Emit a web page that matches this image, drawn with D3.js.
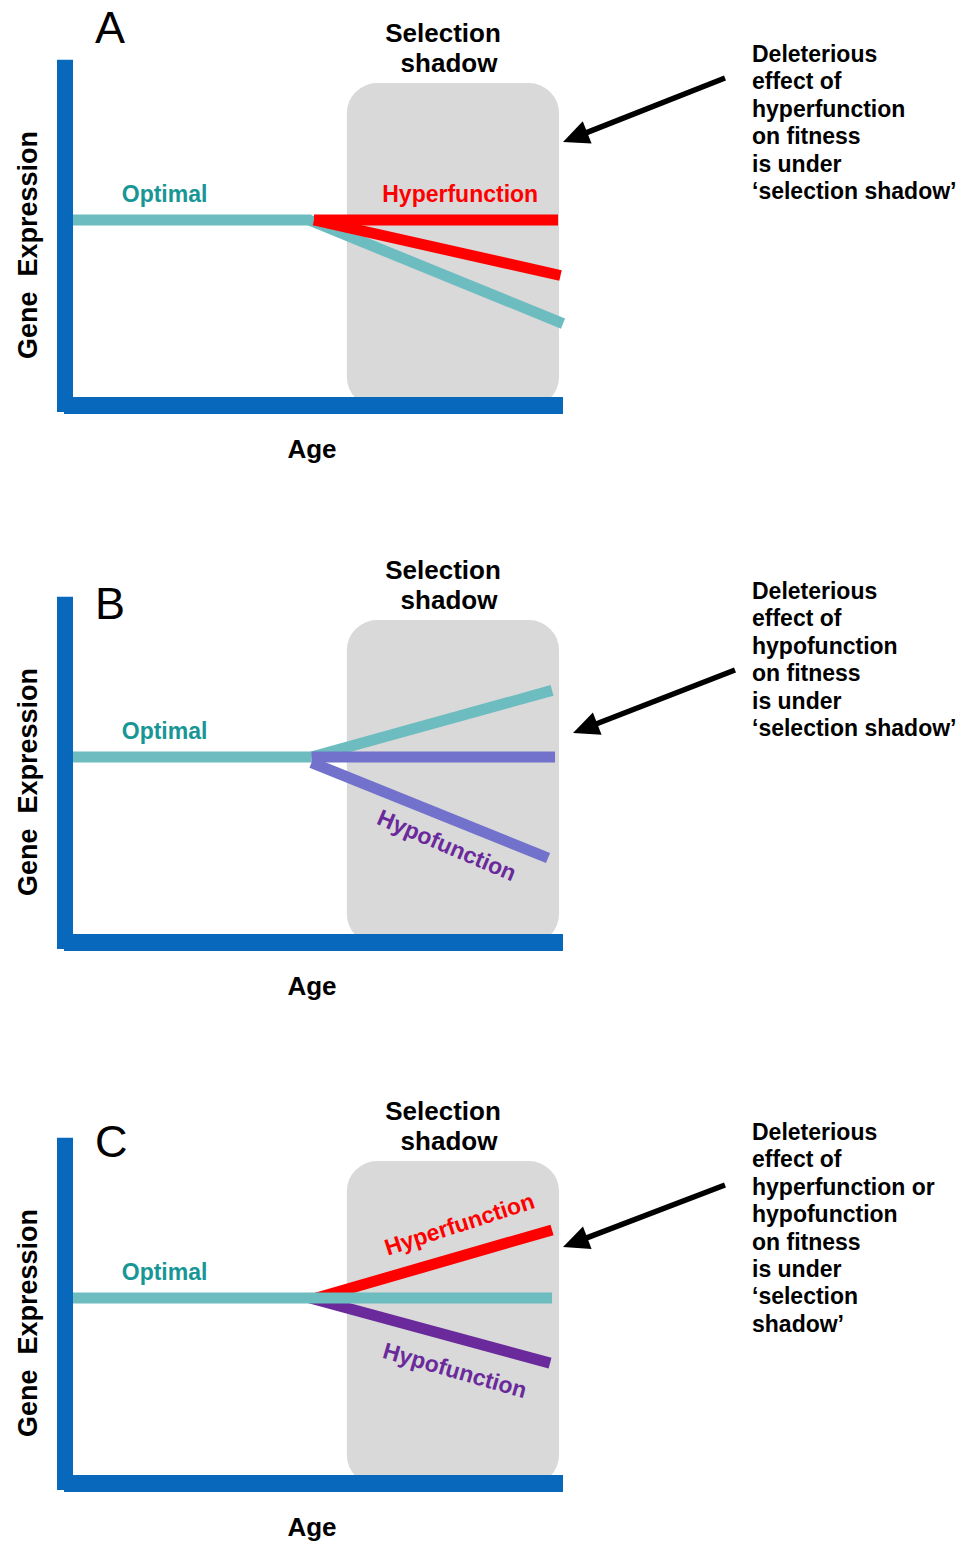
<!DOCTYPE html>
<html>
<head>
<meta charset="utf-8">
<script src="https://cdn.jsdelivr.net/npm/d3@7"></script>
<style>
  html, body { margin: 0; padding: 0; background: #fff; }
  svg text { font-family: "Liberation Sans", Arial, Helvetica, sans-serif; }
</style>
</head>
<body>
<svg id="chart" width="972" height="1546"></svg>
<script>
// ---------------- data (age, expression in arbitrary units) ----------------
const panelLetters = ["A", "B", "C"];
const ageDomain = [0, 10];
const exprDomain = [0, 10];
const shadowAge = [5.66, 9.92];
const shadowTopExpr = 8.7;

// Panel A
const optimalA      = [[0, 5], [4.95, 5]];
const tealDeclineA  = [[4.9, 5], [10.0, 2.2]];
const hyperDeclineA = [[5.0, 5], [9.95, 3.5]];
const hyperFlatA    = [[5.0, 5], [9.9, 5]];
// Panel B
const optimalB      = [[0, 5], [4.95, 5]];
const tealRiseB     = [[4.95, 5], [9.78, 6.8]];
const hypoFlatB     = [[4.95, 5], [9.84, 5]];
const hypoDeclineB  = [[4.95, 4.85], [9.7, 2.27]];
// Panel C
const hyperRiseC    = [[5.05, 5], [9.78, 6.84]];
const hypoDeclineC  = [[4.92, 5], [9.74, 3.24]];
const optimalC      = [[0, 5], [9.78, 5]];

const annotationA = ["Deleterious", "effect of", "hyperfunction", "on fitness", "is under", "\u2018selection shadow\u2019"];
const annotationB = ["Deleterious", "effect of", "hypofunction", "on fitness", "is under", "\u2018selection shadow\u2019"];
const annotationC = ["Deleterious", "effect of", "hyperfunction or", "hypofunction", "on fitness", "is under", "\u2018selection", "shadow\u2019"];

// ---------------- layout / style ----------------
const panelOffsets = [0, 537, 1078];
const arrows = [
  { x1: 725, y1: 78,  x2: 563, y2: 142 },
  { x1: 735, y1: 133, x2: 573, y2: 196 },
  { x1: 725, y1: 107, x2: 563, y2: 169 }
];
const C = {
  teal: "#6dbcc0", tealText: "#179696", red: "#ff0000",
  purpleLight: "#7272cc", purple: "#6a2a9b", axis: "#0868bc", box: "#d9d9d9"
};

const x = d3.scaleLinear().domain(ageDomain).range([65, 563]);
const y = d3.scaleLinear().domain(exprDomain).range([405, 35]);
const line = d3.line().x(d => x(d[0])).y(d => y(d[1]));

const svg = d3.select("#chart");

const panelSeries = [
  [ {d: optimalA, c: C.teal}, {d: tealDeclineA, c: C.teal}, {d: hyperDeclineA, c: C.red}, {d: hyperFlatA, c: C.red} ],
  [ {d: optimalB, c: C.teal}, {d: tealRiseB, c: C.teal}, {d: hypoFlatB, c: C.purpleLight}, {d: hypoDeclineB, c: C.purpleLight} ],
  [ {d: hyperRiseC, c: C.red}, {d: hypoDeclineC, c: C.purple}, {d: optimalC, c: C.teal} ]
];

const panelLabels = [
  [ {t: "Optimal", a: 1.14, e: 5.49, c: C.tealText, anchor: "start", rot: 0},
    {t: "Hyperfunction", a: 6.37, e: 5.49, c: C.red, anchor: "start", rot: 0} ],
  [ {t: "Optimal", a: 1.14, e: 5.49, c: C.tealText, anchor: "start", rot: 0},
    {t: "Hypofunction", a: 7.67, e: 2.62, c: C.purple, anchor: "middle", rot: 23, mid: true} ],
  [ {t: "Optimal", a: 1.14, e: 5.49, c: C.tealText, anchor: "start", rot: 0},
    {t: "Hyperfunction", a: 7.92, e: 7.0, c: C.red, anchor: "middle", rot: -18, mid: true},
    {t: "Hypofunction", a: 7.83, e: 3.05, c: C.purple, anchor: "middle", rot: 16, mid: true} ]
];
const annotations = [annotationA, annotationB, annotationC];
const letterY = [43, 82, 79];

panelLetters.forEach((L, i) => {
  const g = svg.append("g").attr("transform", `translate(0,${panelOffsets[i]})`);

  // selection shadow box
  g.append("rect")
    .attr("x", x(shadowAge[0])).attr("y", y(shadowTopExpr))
    .attr("width", x(shadowAge[1]) - x(shadowAge[0]))
    .attr("height", y(0) - y(shadowTopExpr) + 2)
    .attr("rx", 30).attr("ry", 30)
    .attr("fill", C.box);

  // series lines
  panelSeries[i].forEach(s => {
    g.append("path").attr("d", line(s.d))
      .attr("fill", "none").attr("stroke", s.c)
      .attr("stroke-width", 11).attr("stroke-linecap", "butt");
  });

  // axes
  g.append("line").attr("x1", x(0) - 1).attr("x2", x(10))
    .attr("y1", y(0) + 0.5).attr("y2", y(0) + 0.5)
    .attr("stroke", C.axis).attr("stroke-width", 17);
  g.append("line").attr("x1", x(0)).attr("x2", x(0))
    .attr("y1", y(0) + 7).attr("y2", y(9.33))
    .attr("stroke", C.axis).attr("stroke-width", 16);

  // series labels
  panelLabels[i].forEach(l => {
    const t = g.append("text")
      .attr("transform", `translate(${x(l.a)},${y(l.e)}) rotate(${l.rot})`)
      .attr("text-anchor", l.anchor)
      .attr("font-size", 23).attr("font-weight", "bold")
      .attr("fill", l.c).text(l.t);
    if (l.mid) t.attr("dy", "0.35em");
  });

  // panel letter
  g.append("text").attr("x", 95).attr("y", letterY[i])
    .attr("font-size", 45).attr("fill", "#000").text(L);

  // selection shadow title
  g.append("text").attr("x", 443).attr("y", 42).attr("text-anchor", "middle")
    .attr("font-size", 26).attr("font-weight", "bold").text("Selection");
  g.append("text").attr("x", 449).attr("y", 72).attr("text-anchor", "middle")
    .attr("font-size", 26).attr("font-weight", "bold").text("shadow");

  // axis titles
  g.append("text").attr("x", 312).attr("y", 458).attr("text-anchor", "middle")
    .attr("font-size", 26).attr("font-weight", "bold").text("Age");
  g.append("text")
    .attr("transform", "translate(37,245) rotate(-90)")
    .attr("text-anchor", "middle").attr("font-size", 27).attr("font-weight", "bold")
    .style("white-space", "pre").text("Gene  Expression");

  // arrow
  const a = arrows[i];
  const ang = Math.atan2(a.y2 - a.y1, a.x2 - a.x1);
  const headL = 26, headW = 12;
  const bx = a.x2 - headL * Math.cos(ang), by = a.y2 - headL * Math.sin(ang);
  g.append("line").attr("x1", a.x1).attr("y1", a.y1).attr("x2", bx + 2 * Math.cos(ang)).attr("y2", by + 2 * Math.sin(ang))
    .attr("stroke", "#000").attr("stroke-width", 5.5);
  const px = -Math.sin(ang), py = Math.cos(ang);
  g.append("polygon")
    .attr("points", [[a.x2, a.y2], [bx + headW * px, by + headW * py], [bx - headW * px, by - headW * py]].map(p => p.join(",")).join(" "))
    .attr("fill", "#000");

  // annotation text
  const tg = g.append("text").attr("font-size", 23).attr("font-weight", "bold").attr("fill", "#000");
  annotations[i].forEach((s, k) => {
    tg.append("tspan").attr("x", 752).attr("y", 62 + 27.4 * k).text(s);
  });
});
</script>
</body>
</html>
